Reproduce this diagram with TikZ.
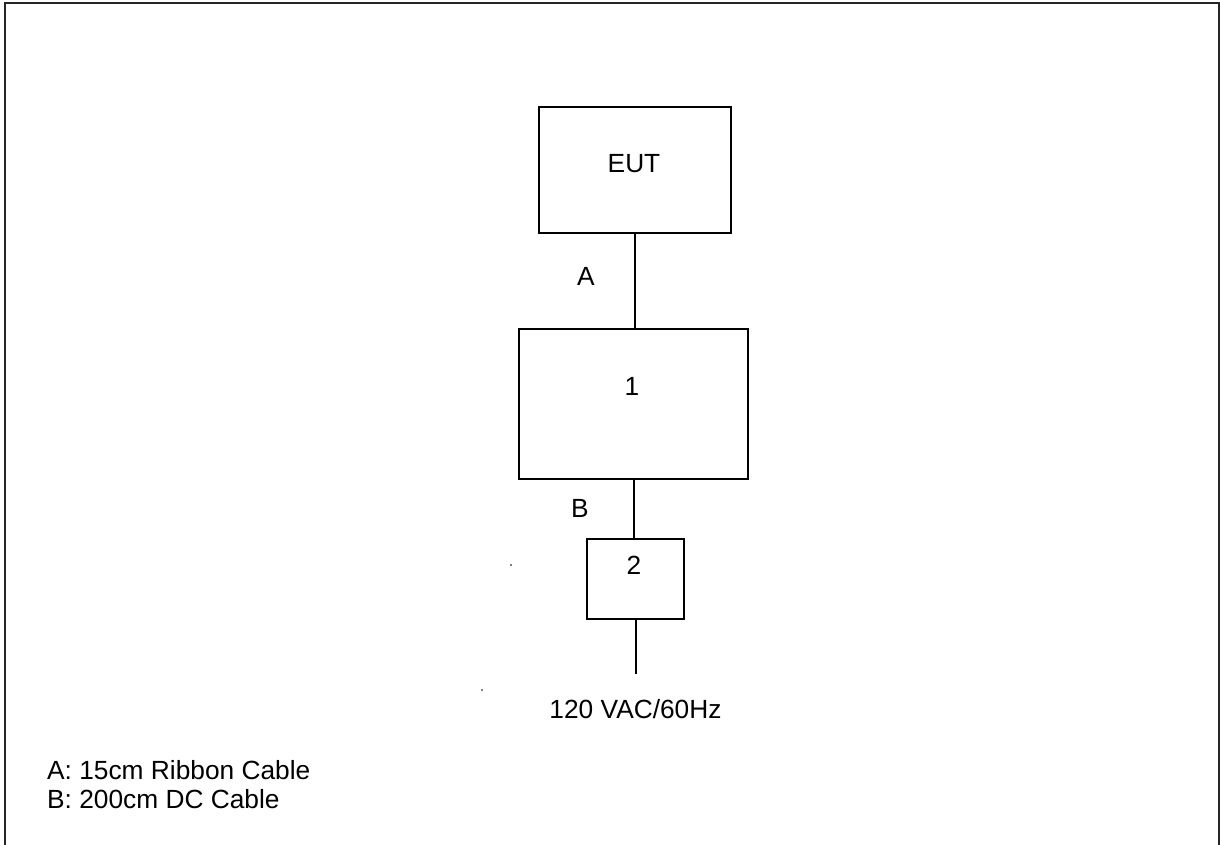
\documentclass[tikz,border=0pt]{standalone}
\usepackage{fontspec}
\setmainfont{Liberation Sans}
\begin{document}
\begin{tikzpicture}[x=1pt,y=-1pt,
  box/.style={draw=black,line width=2.2pt,inner sep=0pt,anchor=north west},
  wire/.style={draw=black,line width=2.2pt},
  txt/.style={anchor=base,inner sep=0pt,font=\fontsize{26.3}{31}\selectfont},
  legend/.style={anchor=base west,inner sep=0pt,font=\fontsize{26.3}{31}\selectfont}]
\useasboundingbox (0,0) rectangle (1220,845);
% outer frame (bottom edge lies outside the picture)
\draw[line width=2.5pt,black!85] (5,860) -- (5,3) -- (1219,3) -- (1219,860);
% boxes
\node[box,minimum width=192pt,minimum height=126pt] (eut) at (538,106) {};
\node[box,minimum width=229pt,minimum height=150pt] (one) at (518,328) {};
\node[box,minimum width=97pt,minimum height=80pt] (two) at (586,538) {};
% texts
\node[txt] (teut) at (634,173) {EUT};
\node[txt] (tone) at (632,395) {1};
\node[txt] (ttwo) at (634,574) {2};
\node[txt] (la) at (586,285) {A};
\node[txt] (lb) at (580,517) {B};
\node[txt] (mainstxt) at (635.5,718) {120 VAC/60Hz};
\node[legend] (lega) at (47,779) {A: 15cm Ribbon Cable};
\node[legend] (legb) at (47,808) {B: 200cm DC Cable};
% connectors
\coordinate (mains) at (634,674);
\draw[wire] (eut.south) -- (eut.south |- one.north);
\draw[wire] (one.south) -- (one.south |- two.north);
\draw[wire] (two.south) -- (two.south |- mains);
% stray specks
\fill (511,565) circle (0.8pt);
\fill (482,690) circle (0.8pt);
\end{tikzpicture}
\end{document}
